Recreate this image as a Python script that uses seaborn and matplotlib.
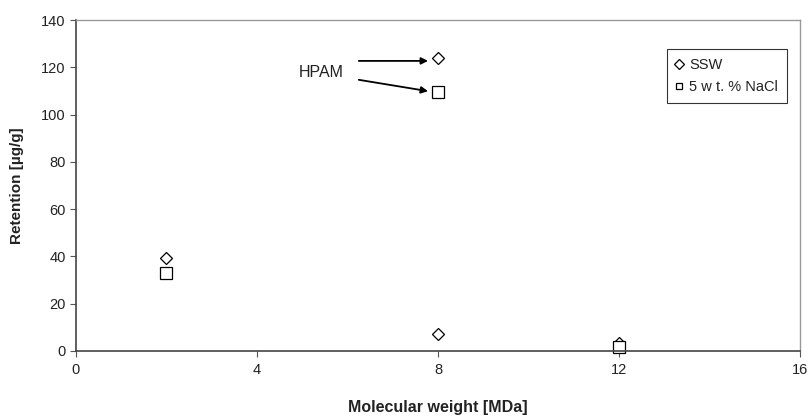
import matplotlib
matplotlib.use("Agg")
import matplotlib.pyplot as plt
import seaborn as sns
import pandas as pd

sns.set_style("white")
plt.rcParams['font.family'] = ['Liberation Sans', 'DejaVu Sans']

mw_ssw = [2, 8, 8, 12]
ret_ssw = [39.3, 124.0, 7.2, 3.2]
mw_nacl = [2, 8, 12]
ret_nacl = [33.2, 109.7, 1.5]
xticks = [0, 4, 8, 12, 16]
yticks = [0, 20, 40, 60, 80, 100, 120, 140]

df = pd.concat([
    pd.DataFrame({"mw": mw_ssw, "ret": ret_ssw, "series": "SSW"}),
    pd.DataFrame({"mw": mw_nacl, "ret": ret_nacl, "series": "5 w t. % NaCl"}),
])

fig = plt.figure(figsize=(8.12, 4.17), dpi=100)
ax = fig.add_axes([76/812, 1-351/417, (800-76)/812, (351-20)/417])

for name, m, sz in [("SSW", "D", 6.5), ("5 w t. % NaCl", "s", 9)]:
    d = df[df.series == name]
    sns.lineplot(data=d, x="mw", y="ret", ax=ax, linestyle="none", marker=m,
                 markersize=sz, markerfacecolor="white", markeredgecolor="black",
                 markeredgewidth=0.9, color="black", label=name, clip_on=False,
                 estimator=None, sort=False)

ax.set_xlim(0, 16)
ax.set_ylim(0, 140)
ax.set_xticks(xticks)
ax.set_yticks(yticks)
ax.tick_params(axis="both", labelsize=10.5, length=4, width=0.8, color="#555555",
               direction="out", bottom=True, left=True, labelcolor="#222222")
ax.tick_params(axis="x", pad=5)
for s in ["left", "bottom"]:
    ax.spines[s].set_color("#444444")
    ax.spines[s].set_linewidth(1.2)
for s in ["top", "right"]:
    ax.spines[s].set_color("#999999")
    ax.spines[s].set_linewidth(1.0)

ax.set_xlabel("Molecular weight [MDa]", fontsize=11.5, fontweight="bold", labelpad=16,
              color="#222222")
ax.set_ylabel("Retention [µg/g]", fontsize=11, fontweight="bold", labelpad=12,
              color="#222222")

leg = ax.legend(loc="upper right", bbox_to_anchor=(0.982, 0.912), frameon=True,
                fancybox=False, fontsize=10.5, handlelength=0.5, handletextpad=0.45,
                borderpad=0.6, labelspacing=0.55, borderaxespad=0)
leg.get_frame().set_edgecolor("black")
leg.get_frame().set_linewidth(0.8)
for h in leg.legend_handles:
    h.set_markersize(5)
for t in leg.get_texts():
    t.set_color("#222222")

ax.text(5.43, 117.7, "HPAM", fontsize=11.5, ha="center", va="center", color="#222222")
ax.annotate("", xy=(7.78, 122.7), xytext=(6.25, 122.7),
            arrowprops=dict(arrowstyle="-|>", color="black", lw=1.3, mutation_scale=10,
                            shrinkA=0, shrinkB=0))
ax.annotate("", xy=(7.78, 109.9), xytext=(6.25, 114.7),
            arrowprops=dict(arrowstyle="-|>", color="black", lw=1.3, mutation_scale=10,
                            shrinkA=0, shrinkB=0))

fig.savefig("out.png", dpi=100)
